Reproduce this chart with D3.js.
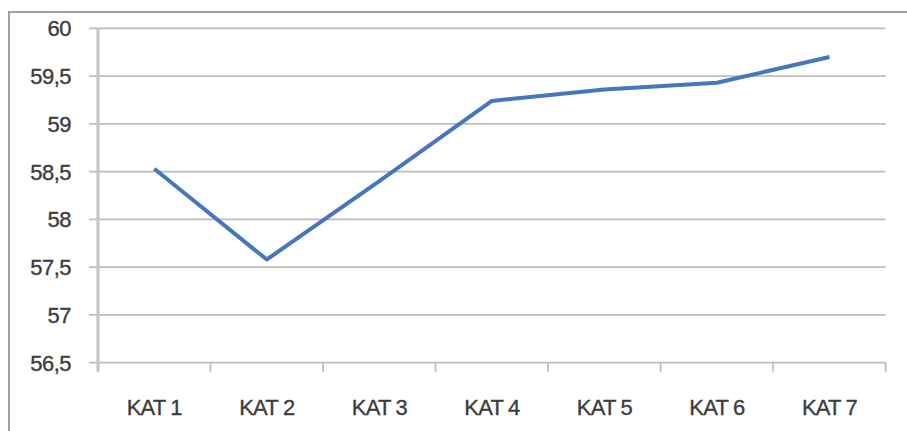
<!DOCTYPE html>
<html>
<head>
<meta charset="utf-8">
<script src="https://cdn.jsdelivr.net/npm/d3@7"></script>
<style>
  body { margin: 0; background: #fff; }
  svg { display: block; }
  text { font-family: "Liberation Sans", Arial, sans-serif; fill: #3c3c3c; stroke: #3c3c3c; stroke-width: 0.35; }
</style>
</head>
<body>
<svg id="chart" width="907" height="431"></svg>
<script>
var categories = ['KAT 1', 'KAT 2', 'KAT 3', 'KAT 4', 'KAT 5', 'KAT 6', 'KAT 7'];
var values = [58.53, 57.58, 58.40, 59.24, 59.36, 59.43, 59.70];
var yTicks = [56.5, 57, 57.5, 58, 58.5, 59, 59.5, 60];

var width = 907, height = 431;
var plot_left = 98, plot_right = 885.7, plot_top = 28.3, plot_bottom = 362.7;

var svg = d3.select('#chart');

// outer frame (only left and top edges visible)
svg.append('path')
    .attr('d', 'M9,' + height + 'V12H' + width)
    .attr('fill', 'none')
    .attr('stroke', '#a0a0a0')
    .attr('stroke-width', 2);

var xs = d3.scaleBand().domain(categories).range([plot_left, plot_right]);
var ys = d3.scaleLinear().domain([56.5, 60]).range([plot_bottom, plot_top]);

// horizontal gridlines + y tick marks
svg.append('g').selectAll('line').data(yTicks).enter().append('line')
    .attr('x1', plot_left - 9)
    .attr('x2', plot_right)
    .attr('y1', function (d) { return ys(d); })
    .attr('y2', function (d) { return ys(d); })
    .attr('stroke', '#bdbdbd')
    .attr('stroke-width', 1.8);

// y labels
svg.append('g').selectAll('text').data(yTicks).enter().append('text')
    .attr('x', 71)
    .attr('y', function (d) { return ys(d); })
    .attr('dy', '0.36em')
    .attr('text-anchor', 'end')
    .attr('font-size', 22)
    .attr('letter-spacing', -0.5)
    .text(function (d) { return String(d).replace('.', ','); });

// y axis line
svg.append('line')
    .attr('x1', plot_left).attr('x2', plot_left)
    .attr('y1', plot_top).attr('y2', plot_bottom + 9)
    .attr('stroke', '#c6c6c6')
    .attr('stroke-width', 3.2);

// x tick marks at band boundaries
var bounds = categories.map(function (c) { return xs(c) + xs.bandwidth(); });
svg.append('g').selectAll('line').data(bounds).enter().append('line')
    .attr('x1', function (d) { return d; })
    .attr('x2', function (d) { return d; })
    .attr('y1', plot_bottom)
    .attr('y2', plot_bottom + 9)
    .attr('stroke', '#bdbdbd')
    .attr('stroke-width', 1.8);

// x labels
svg.append('g').selectAll('text').data(categories).enter().append('text')
    .attr('x', function (d) { return xs(d) + xs.bandwidth() / 2; })
    .attr('y', 415)
    .attr('text-anchor', 'middle')
    .attr('font-size', 22)
    .attr('letter-spacing', -0.8)
    .text(function (d) { return d; });

// the series line
var line = d3.line()
    .x(function (d, i) { return xs(categories[i]) + xs.bandwidth() / 2; })
    .y(function (d) { return ys(d); });

svg.append('path')
    .datum(values)
    .attr('d', line)
    .attr('fill', 'none')
    .attr('stroke', '#4677be')
    .attr('stroke-width', 4)
    .attr('stroke-linejoin', 'round');
</script>
</body>
</html>
